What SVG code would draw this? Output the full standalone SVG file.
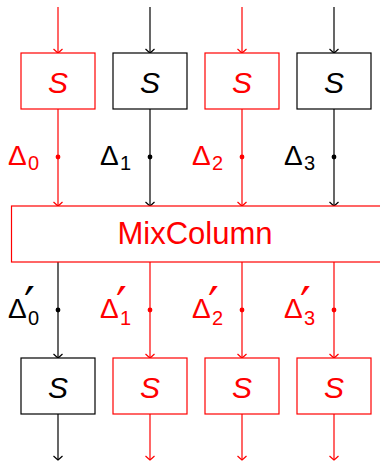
<svg xmlns="http://www.w3.org/2000/svg" width="380" height="461" viewBox="0 0 380 461">
<style>
.r{stroke:#ff0000}
.k{stroke:#000}
.box{fill:#fff;stroke-width:1.2}
.ln{fill:none;stroke-width:1.2}
.s{font-family:"Liberation Sans",Arial,sans-serif;font-style:italic;font-size:30px;text-anchor:middle}
.d{font-family:"Liberation Sans",Arial,sans-serif;font-size:28px}
.sub{font-size:20px}
.pr{font-family:"DejaVu Sans",sans-serif;font-size:48px}
.tr{fill:#ff0000}
.tk{fill:#000}
</style>
<defs>
<marker id="ar" viewBox="-6 -6 12 12" markerWidth="12" markerHeight="12" markerUnits="userSpaceOnUse" refX="0" refY="0" orient="auto">
<path d="M-4,-4.5 Q-0.8,-1 0,0 Q-0.8,1 -4,4.5" fill="none" stroke="#ff0000" stroke-width="1.2"/>
</marker>
<marker id="ak" viewBox="-6 -6 12 12" markerWidth="12" markerHeight="12" markerUnits="userSpaceOnUse" refX="0" refY="0" orient="auto">
<path d="M-4,-4.5 Q-0.8,-1 0,0 Q-0.8,1 -4,4.5" fill="none" stroke="#000" stroke-width="1.2"/>
</marker>
</defs>
<g id="connectors">
<path class="ln r" d="M58,7V53" marker-end="url(#ar)"/>
<path class="ln k" d="M150,7V53" marker-end="url(#ak)"/>
<path class="ln r" d="M242,7V53" marker-end="url(#ar)"/>
<path class="ln k" d="M334,7V53" marker-end="url(#ak)"/>
<path class="ln r" d="M58,109V206" marker-end="url(#ar)"/>
<path class="ln k" d="M150,109V206" marker-end="url(#ak)"/>
<path class="ln r" d="M242,109V206" marker-end="url(#ar)"/>
<path class="ln k" d="M334,109V206" marker-end="url(#ak)"/>
<path class="ln k" d="M58,262V358" marker-end="url(#ak)"/>
<path class="ln r" d="M150,262V358" marker-end="url(#ar)"/>
<path class="ln r" d="M242,262V358" marker-end="url(#ar)"/>
<path class="ln r" d="M334,262V358" marker-end="url(#ar)"/>
<path class="ln k" d="M58,414V460" marker-end="url(#ak)"/>
<path class="ln r" d="M150,414V460" marker-end="url(#ar)"/>
<path class="ln r" d="M242,414V460" marker-end="url(#ar)"/>
<path class="ln r" d="M334,414V460" marker-end="url(#ar)"/>
<circle cx="58" cy="157" r="2.4" fill="#ff0000"/>
<circle cx="150" cy="157" r="2.4" fill="#000"/>
<circle cx="242" cy="157" r="2.4" fill="#ff0000"/>
<circle cx="334" cy="157" r="2.4" fill="#000"/>
<circle cx="58" cy="310" r="2.4" fill="#000"/>
<circle cx="150" cy="310" r="2.4" fill="#ff0000"/>
<circle cx="242" cy="310" r="2.4" fill="#ff0000"/>
<circle cx="334" cy="310" r="2.4" fill="#ff0000"/>
<g id="labels">
<text class="d tr" x="8" y="165">Δ<tspan class="sub" x="28" y="170">0</tspan></text>
<text class="d tk" x="100" y="165">Δ<tspan class="sub" x="120" y="170">1</tspan></text>
<text class="d tr" x="192" y="165">Δ<tspan class="sub" x="212" y="170">2</tspan></text>
<text class="d tk" x="284" y="165">Δ<tspan class="sub" x="304" y="170">3</tspan></text>
<text class="d tk" x="8" y="318">Δ<tspan class="pr" x="24" y="321">′</tspan><tspan class="sub" x="28" y="325">0</tspan></text>
<text class="d tr" x="100" y="318">Δ<tspan class="pr" x="116" y="321">′</tspan><tspan class="sub" x="120" y="325">1</tspan></text>
<text class="d tr" x="192" y="318">Δ<tspan class="pr" x="208" y="321">′</tspan><tspan class="sub" x="212" y="325">2</tspan></text>
<text class="d tr" x="284" y="318">Δ<tspan class="pr" x="300" y="321">′</tspan><tspan class="sub" x="304" y="325">3</tspan></text>
</g>
</g>
<g id="s0"><rect class="box r" x="21" y="53" width="74" height="56"/><text class="s tr" x="58" y="93">S</text></g>
<g id="s1"><rect class="box k" x="113" y="53" width="74" height="56"/><text class="s tk" x="150" y="93">S</text></g>
<g id="s2"><rect class="box r" x="205" y="53" width="74" height="56"/><text class="s tr" x="242" y="93">S</text></g>
<g id="s3"><rect class="box k" x="297" y="53" width="74" height="56"/><text class="s tk" x="334" y="93">S</text></g>
<g id="mixcolumn"><rect class="box r" x="11.5" y="206" width="370" height="56"/><text x="195" y="244" fill="#ff0000" font-family="Liberation Sans, Arial, sans-serif" font-size="31" text-anchor="middle">MixColumn</text></g>
<g id="s4"><rect class="box k" x="21" y="358" width="74" height="56"/><text class="s tk" x="58" y="398">S</text></g>
<g id="s5"><rect class="box r" x="113" y="358" width="74" height="56"/><text class="s tr" x="150" y="398">S</text></g>
<g id="s6"><rect class="box r" x="205" y="358" width="74" height="56"/><text class="s tr" x="242" y="398">S</text></g>
<g id="s7"><rect class="box r" x="297" y="358" width="74" height="56"/><text class="s tr" x="334" y="398">S</text></g>
</svg>
